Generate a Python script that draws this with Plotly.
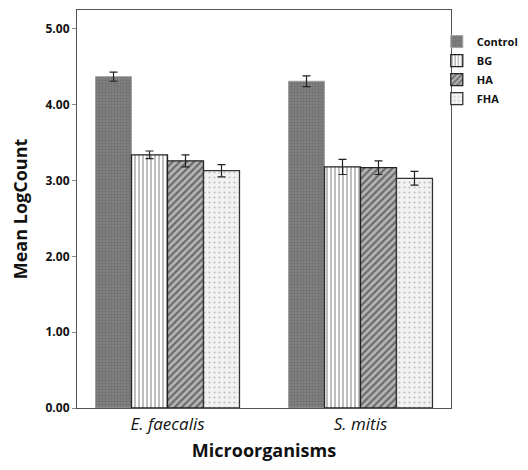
import plotly.graph_objects as go

categories = ["<i>E. faecalis</i>", "<i>S. mitis</i>"]
groups = ["Control", "BG", "HA", "FHA"]
means = {
    "Control": [4.37, 4.31],
    "BG": [3.34, 3.18],
    "HA": [3.26, 3.17],
    "FHA": [3.13, 3.03],
}
errors = {
    "Control": [0.06, 0.07],
    "BG": [0.05, 0.10],
    "HA": [0.08, 0.09],
    "FHA": [0.08, 0.09],
}
y_ticks = [0, 1, 2, 3, 4, 5]
y_ticklabels = ["0.00", "1.00", "2.00", "3.00", "4.00", "5.00"]

styles = {
    "Control": dict(color="#7a7a7a", pattern=dict(shape=".", fgcolor="#5a5a5a", bgcolor="#858585", size=3, solidity=0.5), line=dict(color="#a0a0a0", width=1)),
    "BG": dict(color="white", pattern=dict(shape="|", fgcolor="#222222", bgcolor="white", size=4, solidity=0.3), line=dict(color="#222222", width=1.3)),
    "HA": dict(color="#555555", pattern=dict(shape="/", fgcolor="#222222", bgcolor="#b5b5b5", size=5, solidity=0.45), line=dict(color="#222222", width=1.3)),
    "FHA": dict(color="#eeeeee", pattern=dict(shape=".", fgcolor="#8a8a8a", bgcolor="#f2f2f2", size=5, solidity=0.15), line=dict(color="#333333", width=1.3)),
}

fig = go.Figure()
for g in groups:
    st = styles[g]
    fig.add_trace(go.Bar(
        name=g,
        x=categories,
        y=means[g],
        error_y=dict(type="data", array=errors[g], color="#222222", thickness=1.2, width=4),
        marker=dict(color=st["color"], pattern=st["pattern"], line=st["line"]),
    ))

# page has an 8px body margin, so the figure is 520x462 and offset accordingly
fig.update_layout(
    width=520, height=462,
    barmode="group", bargap=0.254, bargroupgap=0,
    plot_bgcolor="white", paper_bgcolor="white",
    margin=dict(l=69, r=77, t=2, b=62, autoexpand=False),
    font=dict(family="Open Sans", color="#111111"),
    legend=dict(x=0.962, y=0.957, xanchor="left", yanchor="top",
                font=dict(size=11, family="Open Sans", weight="bold"),
                itemwidth=30, tracegroupgap=0, bgcolor="rgba(0,0,0,0)"),
    showlegend=True,
)
fig.update_yaxes(
    range=[0, 5.25], tickvals=y_ticks, ticktext=y_ticklabels,
    tickfont=dict(size=12, weight="bold"), ticks="outside", ticklen=4, tickcolor="#888888",
    showgrid=False, showline=True, linecolor="#555555", linewidth=1.2, mirror=True,
    title=dict(text="<b>Mean LogCount</b>", font=dict(size=18), standoff=14),
    zeroline=False,
)
fig.update_xaxes(
    range=[-0.469, 1.469],
    tickfont=dict(size=17), ticks="", showgrid=False,
    showline=True, linecolor="#555555", linewidth=1.2, mirror=True,
    title=dict(text="<b>Microorganisms</b>", font=dict(size=18), standoff=10),
)

fig.write_html("out.html")
